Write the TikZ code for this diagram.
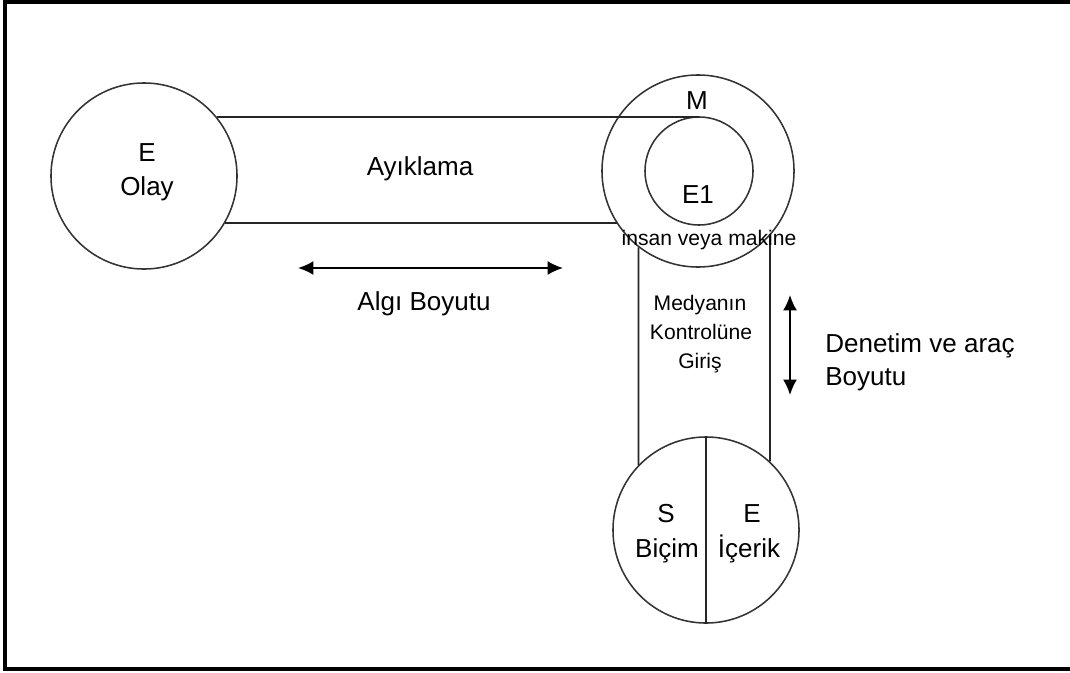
\documentclass[tikz,border=0pt]{standalone}
\usepackage{fontspec}
\setmainfont{Liberation Sans}
\usetikzlibrary{positioning,arrows.meta,calc}

\begin{document}
\begin{tikzpicture}[x=0.025cm,y=-0.025cm,
  ring/.style={draw=black!80,line width=1.1pt,circle,inner sep=0pt},
  band/.style={draw=black!85,line width=1.3pt},
  bigtxt/.style={font=\fontsize{18.5}{25}\selectfont,anchor=base,inner sep=0pt},
  smalltxt/.style={font=\fontsize{15}{17}\selectfont,anchor=base,inner sep=0pt},
  dimarrow/.style={draw=black,line width=1.3pt,{Latex[length=11pt,width=10pt]}-{Latex[length=11pt,width=10pt]}}]
  \useasboundingbox (0,0) rectangle (1070,672);
  % frame, open on the right
  \draw[line width=3.2pt] (1070,2) -- (5,2) -- (5,669) -- (1070,669);

  % the four circles
  \node[ring,minimum size=4.65cm] (olay) at (144,176) {};
  \node[ring,minimum size=4.8cm] (medya) at (698,171) {};
  \node[ring,minimum size=2.7cm] (e1) at (699,171) {};
  \node[ring,minimum size=4.65cm] (mesaj) at (706,530) {};

  % bands joining them
  \draw[band] (olay.39) -- (olay.39 -| e1.north);
  \draw[band] (olay.-30) -- (olay.-30 -| medya.213);
  \draw[band] (medya.232) -- (mesaj.136);
  \draw[band] (medya.318) -- (mesaj.47);
  \draw[band] (mesaj.north) -- (mesaj.south);

  % labels
  \node[bigtxt] (e) at (147,161) {E};
  \node[bigtxt] (olaytxt) at (147,195) {Olay};
  \node[bigtxt] (ayik) at (420,175) {Ayıklama};
  \node[bigtxt] (algi) at (424,310) {Algı Boyutu};
  \node[bigtxt] (m) at (697,109) {M};
  \node[bigtxt] (e1txt) at (698,203) {E1};
  \node[smalltxt] (insan) at (709,245) {insan veya makine};
  \node[smalltxt] (medyanin) at (700,310) {Medyanın};
  \node[smalltxt] (kontrol) at (701,339) {Kontrolüne};
  \node[smalltxt] (giris) at (700,368) {Giriş};
  \node[bigtxt] (s) at (666,522) {S};
  \node[bigtxt] (bicim) at (667,557) {Biçim};
  \node[bigtxt] (e2) at (752,522) {E};
  \node[bigtxt] (icerik) at (749,557) {İçerik};
  \node[bigtxt,anchor=base west] (denetim) at (825,352) {Denetim ve araç};
  \node[bigtxt,anchor=base west] (boyut) at (825,385) {Boyutu};

  % dimension arrows
  \coordinate (h1) at (298,268);
  \coordinate (h2) at (563,268);
  \draw[dimarrow] (h1) -- (h2);
  \coordinate (v1) at (790,295);
  \coordinate (v2) at (790,395);
  \draw[dimarrow] (v1) -- (v2);
\end{tikzpicture}
\end{document}
